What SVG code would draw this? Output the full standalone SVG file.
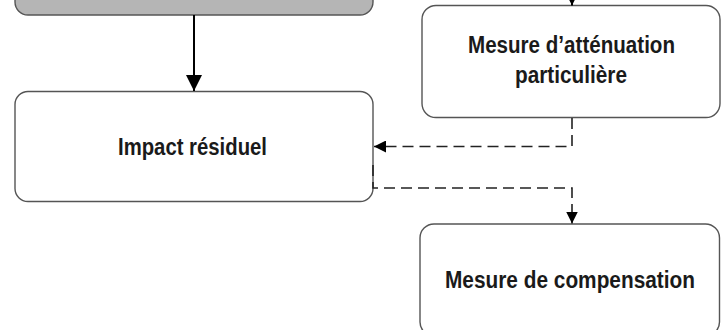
<svg xmlns="http://www.w3.org/2000/svg" width="721" height="330" viewBox="0 0 721 330">
<style>
.box{fill:#fff;stroke:#555;stroke-width:1.4}
.gray{fill:#b5b5b5;stroke:#555;stroke-width:1.4}
.lbl{font-family:"Liberation Sans Narrow","Liberation Sans",Arial,sans-serif;font-weight:bold;font-size:23px;fill:#1a1a1a;text-anchor:middle}
.solid{fill:none;stroke:#000;stroke-width:2}
.dash{fill:none;stroke:#222;stroke-width:1.6;stroke-dasharray:11 6}
</style>
<defs>
<marker id="big" markerUnits="userSpaceOnUse" markerWidth="16" markerHeight="16" refX="14" refY="7" orient="auto" viewBox="0 0 14 14">
<path d="M0,0 L14,7 L0,14 z" fill="#000"/>
</marker>
<marker id="small" markerUnits="userSpaceOnUse" markerWidth="12" markerHeight="12" refX="11" refY="5.5" orient="auto" viewBox="0 0 11 11">
<path d="M0,0 L11,5.5 L0,11 z" fill="#000"/>
</marker>
</defs>
<rect width="721" height="330" fill="#fff"/>
<g id="source">
<rect class="gray" x="15" y="-60" width="358" height="75" rx="13"/>
</g>
<g id="impact-residuel">
<rect class="box" x="15" y="91.5" width="358" height="110" rx="13"/>
<text class="lbl" x="192.5" y="155" textLength="149" lengthAdjust="spacingAndGlyphs">Impact résiduel</text>
</g>
<g id="mesure-attenuation">
<rect class="box" x="422" y="5.5" width="298" height="112" rx="14"/>
<text class="lbl" x="571.5" y="53" textLength="207" lengthAdjust="spacingAndGlyphs">Mesure d’atténuation</text>
<text class="lbl" x="571" y="83" textLength="112" lengthAdjust="spacingAndGlyphs">particulière</text>
</g>
<g id="mesure-compensation">
<rect class="box" x="420" y="224" width="299.5" height="112" rx="14"/>
<text class="lbl" x="570" y="288" textLength="250" lengthAdjust="spacingAndGlyphs">Mesure de compensation</text>
</g>
<g id="connectors">
<path class="solid" d="M194,15 V91" marker-end="url(#big)"/>
<path class="solid" d="M572,-20 V5.5" marker-end="url(#big)"/>
<path class="dash" d="M572,118 V146.5 H374" marker-end="url(#small)"/>
<path class="dash" d="M373,165 V188 H572 V223.5" marker-end="url(#small)" stroke="#555"/>
</g>
</svg>
